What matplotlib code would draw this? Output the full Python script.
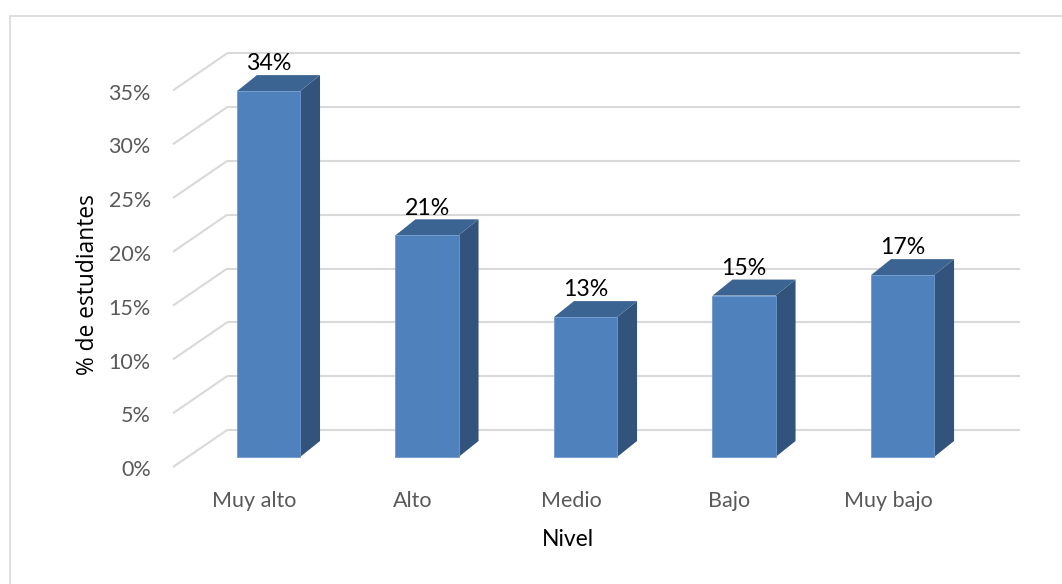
import matplotlib
matplotlib.use('Agg')
import matplotlib.pyplot as plt
from matplotlib.patches import Polygon, Rectangle

# data
categorias = ['Muy alto', 'Alto', 'Medio', 'Bajo', 'Muy bajo']
porcentajes = [34.0, 20.6, 13.0, 15.0, 16.9]
ticks = [0, 5, 10, 15, 20, 25, 30, 35]

# colours (Excel 2010 style)
c_front = '#4f81bd'
c_top = '#3c6492'
c_side = '#32547c'
c_grid = '#d9d9d9'

# oblique "3D" geometry, in data units (x = category, y = percent)
hw = 0.199            # half bar width
bdx, bdy = 0.126, 1.49  # bar depth offset
fdx, fdy = 0.092, 0.93  # floor front edge in front of the bar front plane
wdx, wdy = 0.341, 3.44  # full floor depth (front edge -> back wall)
x_left = -0.6025        # left front corner of the floor
x_right = 4.741         # right end of back wall

fig = plt.figure(figsize=(10.62, 5.84), dpi=100)
ax = fig.add_axes([0, 0, 1, 1])
ax.set_xlim(-1.694, 5.006)
ax.set_ylim(-11.80, 42.47)
ax.axis('off')

# chart border
fig.patches.append(Rectangle((9.5 / 1062, -0.1), 1.2, (584 - 16) / 584 + 0.1,
                             transform=fig.transFigure, fill=False,
                             edgecolor='#d9d9d9', lw=1.2))

# gridlines: diagonal on the side wall + horizontal on the back wall
for t in ticks:
    yf = t - fdy
    yb = t - fdy + wdy
    ax.plot([x_left, x_left + wdx], [yf, yb], color=c_grid, lw=1.5,
            solid_capstyle='butt', zorder=1)
    ax.plot([x_left + wdx, x_right], [yb, yb], color=c_grid, lw=1.5,
            solid_capstyle='butt', zorder=1)
    ax.text(x_left - 0.14, yf - 0.3, f'{t}%', ha='right', va='center',
            fontsize=15.5, color='#595959', family='Lato')

# bars
for i, v in enumerate(porcentajes):
    l, r = i - hw, i + hw
    ax.add_patch(Polygon([(r, 0), (r + bdx, bdy), (r + bdx, v + bdy), (r, v)],
                         closed=True, facecolor=c_side, edgecolor='none', zorder=3))
    ax.add_patch(Polygon([(l, v), (r, v), (r + bdx, v + bdy), (l + bdx, v + bdy)],
                         closed=True, facecolor=c_top, edgecolor='none', zorder=3))
    ax.add_patch(Rectangle((l, 0), 2 * hw, v, facecolor=c_front,
                           edgecolor='#6f99cf', lw=0.6, zorder=4))
    ax.text(i, v + bdy + 1.05, f'{v:.0f}%', ha='center', va='center',
            fontsize=16.7, color='black', family='Lato', zorder=5)
    ax.text(i - fdx, -4.09, categorias[i], ha='center', va='center',
            fontsize=15.5, color='#595959', family='Lato')

ax.text(-1.139, 16.0, '% de estudiantes', rotation=90, ha='center', va='center',
        fontsize=16.4, color='black', family='Open Sans')
ax.text(1.89, -7.71, 'Nivel', ha='center', va='center',
        fontsize=16.5, color='black', family='Lato')

fig.savefig('out.png', dpi=100)
